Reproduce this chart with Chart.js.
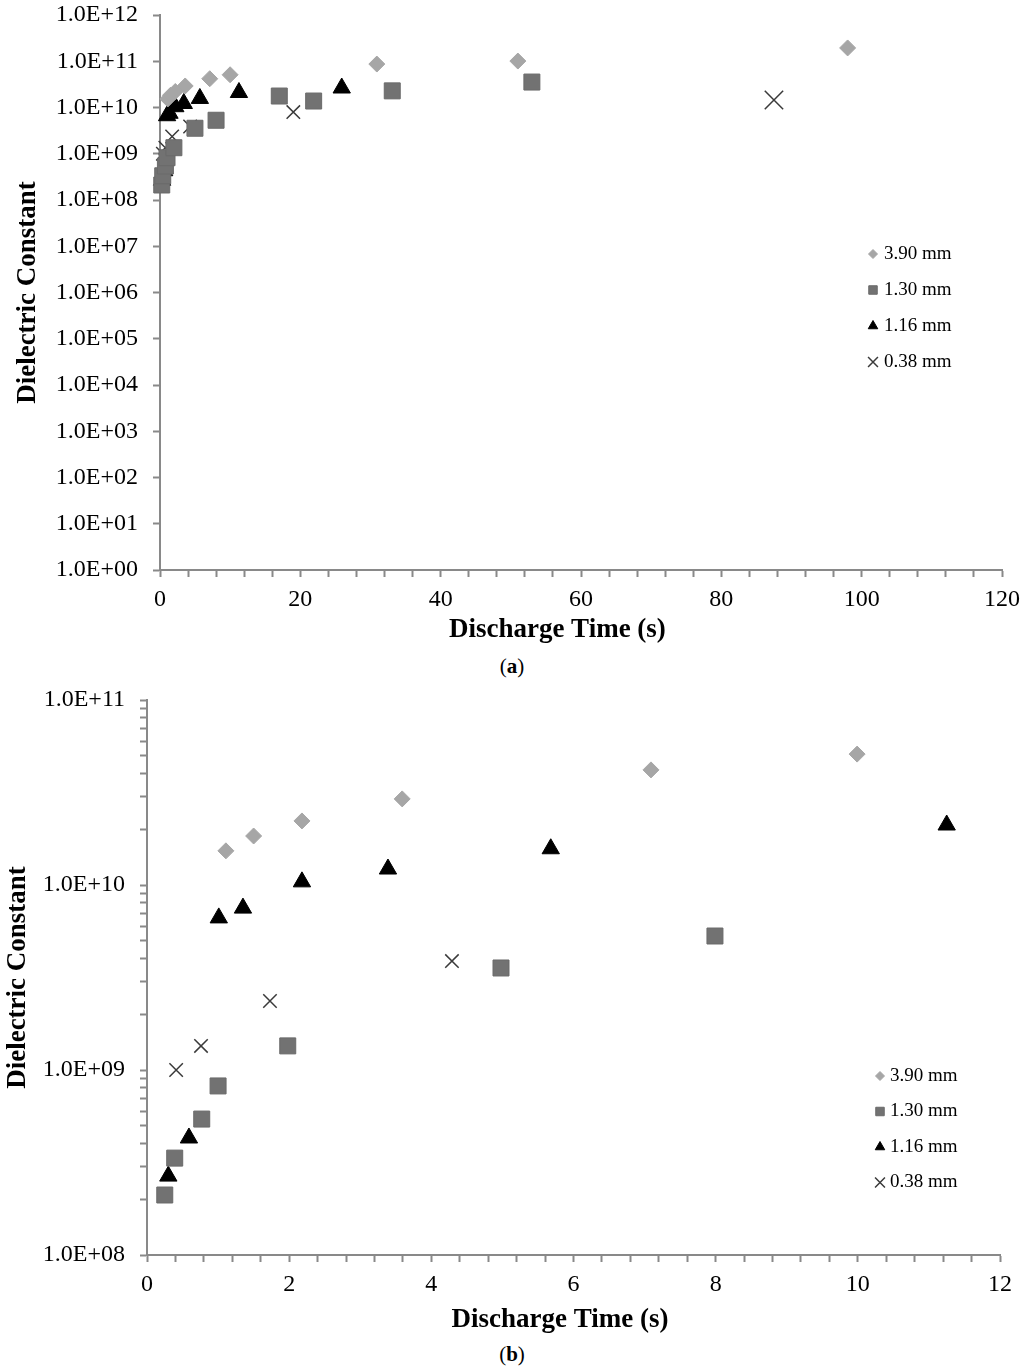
<!DOCTYPE html>
<html>
<head>
<meta charset="utf-8">
<script src="https://cdn.jsdelivr.net/npm/chart.js@4.4.1/dist/chart.umd.min.js"></script>
<style>
  body { margin: 0; background: #fff; }
  .box { position: absolute; left: 0; width: 1024px; }
  .cap { position: absolute; left: 0; width: 1024px; text-align: center;
         font-family: "Liberation Serif", "Times New Roman", serif; font-size: 21px; color: #000; }
</style>
</head>
<body>
<div class="box" style="top:0;height:650px"><canvas id="chartA" width="1024" height="650"></canvas></div>
<div class="cap" style="top:654px">(<b>a</b>)</div>
<div class="box" style="top:680px;height:660px"><canvas id="chartB" width="1024" height="660"></canvas></div>
<div class="cap" style="top:1342px">(<b>b</b>)</div>
<script>
// values
const labels = ['3.90 mm', '1.30 mm', '1.16 mm', '0.38 mm'];

const x390 = [1.11, 1.50, 2.18, 3.59, 7.09, 9.99, 30.9, 51.0, 98.0];
const y390 = [1.53e10, 1.84e10, 2.22e10, 2.92e10, 4.19e10, 5.1e10, 8.7e10, 1.01e11, 1.94e11];

const x130 = [0.25, 0.39, 0.77, 1.0, 1.98, 4.98, 7.99, 17.0, 21.9, 33.1, 53.0];
const y130 = [2.11e8, 3.34e8, 5.43e8, 8.2e8, 1.35e9, 3.56e9, 5.3e9, 1.77e10, 1.38e10, 2.29e10, 3.55e10];

const x116 = [0.30, 0.59, 1.01, 1.35, 2.18, 3.39, 5.68, 11.25, 25.9];
const y116 = [2.67e8, 4.29e8, 6.64e9, 7.5e9, 1.04e10, 1.22e10, 1.57e10, 2.11e10, 2.64e10];

const x038 = [0.41, 0.76, 1.73, 4.29, 19.0, 87.5];
const y038 = [1.0e9, 1.35e9, 2.36e9, 3.88e9, 7.96e9, 1.45e10];

const xTicksA = [0, 20, 40, 60, 80, 100, 120];
const yTicksA = [1e0, 1e1, 1e2, 1e3, 1e4, 1e5, 1e6, 1e7, 1e8, 1e9, 1e10, 1e11, 1e12];
const xTicksB = [0, 2, 4, 6, 8, 10, 12];
const yTicksB = [1e8, 1e9, 1e10, 1e11];

const FONT = '"Liberation Serif", "Times New Roman", serif';
const AXIS = '#898989';

function pts(xs, ys, xmax) {
    let out = [];
    for (let i = 0; i < xs.length; i++) {
        if (xs[i] <= xmax) out.push({x: xs[i], y: ys[i]});
    }
    return out;
}

function sci(v) {
    let e = Math.round(Math.log10(v));
    if (Math.abs(v - Math.pow(10, e)) > v * 1e-6) return '';
    return '1.0E+' + (e < 10 ? '0' + e : e);
}

// minor ticks: 5 per major step on x, 1..9 per decade on log y
function linTicks(majors) {
    let step = (majors[1] - majors[0]) / 5;
    let out = [];
    for (let i = 0; i <= (majors.length - 1) * 5; i++) out.push({value: i * step, major: i % 5 === 0});
    return out;
}
function logTicks(decades, minor) {
    let out = [];
    for (let d = 0; d < decades.length; d++) {
        out.push({value: decades[d]});
        if (minor && d < decades.length - 1) {
            for (let k = 2; k <= 9; k++) out.push({value: decades[d] * k});
        }
    }
    return out;
}

const insideLegend = {
    id: 'insideLegend',
    afterDatasetsDraw(chart, args, opts) {
        const ctx = chart.ctx;
        ctx.save();
        chart.data.datasets.forEach((ds, i) => {
            let y = opts.y + i * opts.gap;
            ctx.fillStyle = ds.backgroundColor;
            ctx.strokeStyle = ds.borderColor;
            ctx.lineWidth = ds.borderWidth;
            Chart.helpers.drawPoint(ctx, {
                pointStyle: ds.pointStyle, radius: opts.radius[i], rotation: 0, borderWidth: ds.borderWidth
            }, opts.x, y);
            ctx.fillStyle = '#000';
            ctx.font = '19px ' + FONT;
            ctx.textBaseline = 'middle';
            ctx.textAlign = 'left';
            ctx.fillText(ds.label, opts.x + opts.textGap, y);
        });
        ctx.restore();
    }
};

function makeChart(id, cfg) {
    const xmax = cfg.xTicks[cfg.xTicks.length - 1];
    const datasets = [
        {label: labels[0], data: pts(x390, y390, xmax), pointStyle: 'rectRot', pointRadius: 8,
         backgroundColor: '#a6a6a6', borderColor: '#a6a6a6', borderWidth: 1},
        {label: labels[1], data: pts(x130, y130, xmax), pointStyle: 'rect', pointRadius: 11.3,
         backgroundColor: '#727272', borderColor: '#6a6a6a', borderWidth: 1},
        {label: labels[2], data: pts(x116, y116, xmax), pointStyle: 'triangle', pointRadius: 10,
         backgroundColor: '#000', borderColor: '#000', borderWidth: 1},
        {label: labels[3], data: pts(x038, y038, xmax), pointStyle: 'crossRot',
         pointRadius: c => (c.raw && c.raw.x > 80 ? 13 : 9.5),
         backgroundColor: '#3a3a3a', borderColor: '#3a3a3a', borderWidth: 1.5}
    ];
    datasets.forEach(d => { d.showLine = false; d.clip = false; d.pointHoverRadius = d.pointRadius; });

    return new Chart(document.getElementById(id), {
        type: 'scatter',
        data: {datasets: datasets},
        plugins: [insideLegend],
        options: {
            responsive: false,
            animation: false,
            devicePixelRatio: 1,
            layout: {padding: {left: 0, top: cfg.padTop, right: cfg.padRight, bottom: 0}},
            plugins: {
                legend: {display: false},
                tooltip: {enabled: false},
                insideLegend: cfg.legend
            },
            scales: {
                x: {
                    type: 'linear', min: 0, max: xmax,
                    afterBuildTicks: s => { s.ticks = linTicks(cfg.xTicks); },
                    afterFit: s => { s.height = cfg.xHeight; s.paddingLeft = 0; s.paddingRight = 0; },
                    ticks: {
                        autoSkip: false, maxRotation: 0, padding: 8, color: '#000',
                        font: {family: FONT, size: 24},
                        callback: (v, i) => (i % 5 === 0 ? String(Math.round(v)) : '')
                    },
                    grid: {drawOnChartArea: false, drawTicks: true, tickLength: 7, tickColor: AXIS, tickWidth: 2},
                    border: {display: true, color: AXIS, width: 2},
                    title: {display: true, text: 'Discharge Time (s)' + cfg.xTitlePad, color: '#000',
                            font: {family: FONT, size: 27, weight: 'bold'}, padding: {top: 0, bottom: cfg.xTitleBottom}}
                },
                y: {
                    type: 'logarithmic', min: cfg.yTicks[0], max: cfg.yTicks[cfg.yTicks.length - 1],
                    afterBuildTicks: s => { s.ticks = logTicks(cfg.yTicks, cfg.minorY); },
                    afterFit: s => { s.width = cfg.yWidth; s.paddingTop = 0; s.paddingBottom = 0; },
                    ticks: {
                        autoSkip: false, padding: 15, color: '#000',
                        font: {family: FONT, size: 24},
                        callback: v => sci(v)
                    },
                    grid: {drawOnChartArea: false, drawTicks: true, tickLength: 7, tickColor: AXIS, tickWidth: 2},
                    border: {display: true, color: AXIS, width: 2},
                    title: {display: true, text: 'Dielectric Constant', color: '#000',
                            font: {family: FONT, size: 27, weight: 'bold'}, padding: {top: cfg.yTitleTop, bottom: 0}}
                }
            }
        }
    });
}

makeChart('chartA', {
    xTicks: xTicksA, yTicks: yTicksA, minorY: false,
    padTop: 15, padRight: 22, xHeight: 80, yWidth: 160,
    xTitleBottom: 4, yTitleTop: 12, xTitlePad: '\u00a0\u00a0\u00a0\u00a0\u00a0\u00a0\u00a0',
    legend: {x: 873, y: 254, gap: 36, textGap: 11, radius: [4.5, 6, 5.5, 7]}
});

makeChart('chartB', {
    xTicks: xTicksB, yTicks: yTicksB, minorY: true,
    padTop: 20, padRight: 24, xHeight: 85, yWidth: 147,
    xTitleBottom: 4, yTitleTop: 2, xTitlePad: '\u00a0\u00a0\u00a0\u00a0',
    legend: {x: 880, y: 396, gap: 35.5, textGap: 10, radius: [4.5, 6, 5.5, 7]}
});
</script>
</body>
</html>
